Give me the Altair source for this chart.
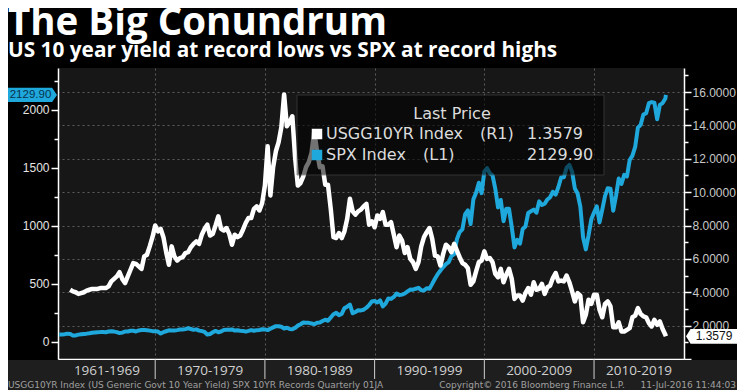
import altair as alt
import pandas as pd

# ---------------- data (quarter-end closes) ----------------
SPX_FIRST_YEAR = 1961
spx_1960s = [65.06, 64.64, 66.73, 71.55,
             69.55, 54.75, 56.27, 63.10,
             66.57, 69.37, 71.70, 75.02,
             78.98, 81.69, 84.18, 84.75,
             86.16, 84.12, 89.96, 92.43,
             89.23, 84.74, 76.56, 80.33,
             90.20, 90.64, 96.71, 96.47,
             90.20, 99.58, 102.67, 103.86,
             101.51, 97.71, 93.12, 92.06]
spx_1970s = [89.63, 72.72, 84.30, 92.15,
             100.31, 99.00, 98.34, 102.09,
             107.20, 107.14, 110.55, 118.05,
             111.52, 104.26, 108.43, 97.55,
             93.98, 86.00, 63.54, 68.56,
             83.36, 95.19, 83.87, 90.19,
             102.77, 104.28, 105.24, 107.46,
             98.42, 100.48, 96.53, 95.10,
             89.21, 95.53, 102.54, 96.11,
             101.59, 102.91, 109.32, 107.94]
spx_1980s = [102.09, 114.24, 125.46, 135.76,
             136.00, 131.21, 116.18, 122.55,
             111.96, 109.61, 120.42, 140.64,
             152.96, 168.11, 166.07, 164.93,
             159.18, 153.18, 166.10, 167.24,
             180.66, 191.85, 182.08, 211.28,
             238.90, 250.84, 231.32, 242.17,
             291.70, 304.00, 321.83, 247.08,
             258.89, 273.50, 271.91, 277.72,
             294.87, 317.98, 349.15, 353.40]
spx_1990s = [339.94, 358.02, 306.05, 330.22,
             375.22, 371.16, 387.86, 417.09,
             403.69, 408.14, 417.80, 435.71,
             451.67, 450.53, 458.93, 466.45,
             445.77, 444.27, 462.69, 459.27,
             500.71, 544.75, 584.41, 615.93,
             645.50, 670.63, 687.33, 740.74,
             757.12, 885.14, 947.28, 970.43,
             1101.75, 1133.84, 1017.01, 1229.23,
             1286.37, 1372.71, 1282.71, 1469.25]
spx_2000s = [1498.58, 1454.60, 1436.51, 1320.28,
             1160.33, 1224.42, 1040.94, 1148.08,
             1147.39, 989.82, 815.28, 879.82,
             848.18, 974.50, 995.97, 1111.92,
             1126.21, 1140.84, 1114.58, 1211.92,
             1180.59, 1191.33, 1228.81, 1248.29,
             1294.83, 1270.20, 1335.85, 1418.30,
             1420.86, 1503.35, 1526.75, 1468.36,
             1322.70, 1280.00, 1166.36, 903.25,
             797.87, 919.32, 1057.08, 1115.10]
spx_2010s = [1169.43, 1030.71, 1141.20, 1257.64,
             1325.83, 1320.64, 1131.42, 1257.60,
             1408.47, 1362.16, 1440.67, 1426.19,
             1569.19, 1606.28, 1681.55, 1848.36,
             1872.34, 1960.23, 1972.29, 2058.90,
             2067.89, 2063.11, 1920.03, 2043.94,
             2059.74, 2098.86]

YLD_FIRST_YEAR = 1962
yld_1960s = [4.15, 4.05, 4.00, 3.90,
             3.95, 4.00, 4.10, 4.15,
             4.20, 4.20, 4.20, 4.25,
             4.25, 4.25, 4.35, 4.65,
             4.80, 4.95, 5.20, 4.80,
             4.55, 4.95, 5.35, 5.75,
             5.70, 5.55, 5.40, 6.15,
             6.25, 6.75, 7.30, 8.00]
yld_1970s = [7.65, 7.80, 7.30, 6.40,
             5.65, 6.75, 6.15, 5.90,
             6.05, 6.10, 6.35, 6.40,
             6.70, 6.90, 7.05, 6.90,
             7.45, 7.80, 8.05, 7.40,
             7.50, 8.00, 8.55, 7.80,
             7.70, 7.85, 7.50, 6.85,
             7.45, 7.30, 7.40, 7.75,
             8.15, 8.45, 8.45, 9.00,
             9.15, 8.90, 9.35, 10.40]
yld_1980s = [12.75, 9.80, 11.50, 12.45,
             13.00, 13.90, 15.85, 13.95,
             14.20, 14.55, 12.10, 10.40,
             10.55, 10.95, 11.50, 11.80,
             12.35, 13.65, 12.45, 11.50,
             11.55, 10.45, 10.45, 9.00,
             7.30, 7.25, 7.55, 7.25,
             7.65, 8.40, 9.60, 8.85,
             8.65, 8.85, 8.95, 9.15,
             9.30, 8.05, 8.25, 7.90]
yld_1990s = [8.60, 8.40, 8.80, 8.05,
             8.05, 8.20, 7.45, 6.70,
             7.40, 7.10, 6.35, 6.70,
             6.00, 5.80, 5.40, 5.80,
             6.75, 7.30, 7.60, 7.85,
             7.20, 6.20, 6.15, 5.60,
             6.30, 6.85, 6.70, 6.40,
             6.90, 6.50, 6.10, 5.75,
             5.65, 5.45, 4.45, 4.65,
             5.25, 5.80, 5.90, 6.45]
yld_2000s = [6.00, 6.05, 5.80, 5.10,
             4.90, 5.40, 4.60, 5.05,
             5.40, 4.80, 3.60, 3.80,
             3.80, 3.50, 3.95, 4.25,
             3.85, 4.60, 4.15, 4.20,
             4.50, 3.90, 4.30, 4.40,
             4.85, 5.15, 4.65, 4.70,
             4.65, 5.00, 4.60, 4.05,
             3.45, 3.95, 3.80, 2.20,
             2.65, 3.55, 3.30, 3.85]
yld_2010s = [3.85, 2.95, 2.50, 3.30,
             3.45, 3.15, 1.90, 1.90,
             2.20, 1.65, 1.65, 1.75,
             1.85, 2.50, 2.60, 3.05,
             2.70, 2.55, 2.50, 2.15,
             1.95, 2.35, 2.05, 2.25,
             1.80, 1.45]

LAST_T = 2016.55
SPX_LAST = 2129.90
YLD_LAST = 1.3579

decade_labels = ["1961-1969", "1970-1979", "1980-1989", "1990-1999", "2000-2009", "2010-2019"]
decade_centers = [1965.6, 1975, 1985, 1995, 2005, 2014.1]
decade_bounds = [1970, 1980, 1990, 2000, 2010]
x_ticks = [1965, 1970, 1975, 1980, 1985, 1990, 1995, 2000, 2005, 2010, 2015]
left_ticks = [0, 250, 500, 750, 1000, 1250, 1500, 1750, 2000, 2250]
right_ticks = list(range(0, 18))

spx_vals = spx_1960s + spx_1970s + spx_1980s + spx_1990s + spx_2000s + spx_2010s
yld_vals = yld_1960s + yld_1970s + yld_1980s + yld_1990s + yld_2000s + yld_2010s
spx_t = [SPX_FIRST_YEAR + (i + 1) / 4 for i in range(len(spx_vals))] + [LAST_T]
yld_t = [YLD_FIRST_YEAR + (i + 1) / 4 for i in range(len(yld_vals))] + [LAST_T]
spx_df = pd.DataFrame({"t": spx_t, "v": spx_vals + [SPX_LAST]})
yld_df = pd.DataFrame({"t": yld_t, "v": yld_vals + [YLD_LAST]})
spx_last_df = pd.DataFrame({"v": [SPX_LAST], "s": [f"{SPX_LAST:.2f}"]})
yld_last_df = pd.DataFrame({"v": [YLD_LAST], "s": [f"{YLD_LAST:.4f}"]})
dec_df = pd.DataFrame({"t": decade_centers, "s": decade_labels})
bound_df = pd.DataFrame({"t": decade_bounds})

# ---------------- styling ----------------
W, H = 626, 291
X_DOMAIN = [1961.14, 2018.2]
SPX_DOMAIN = [-147, 2362]
YLD_DOMAIN = [0, 17.44]
WHITE = "#ffffff"
BLUE = "#1fa8dc"
GRID = "#5c5c5c"
AX_FONT = "Liberation Sans"
LEG_FONT = "DejaVu Sans"
TITLE_FONT = "Open Sans"

x_enc = alt.X(
    "t:Q",
    scale=alt.Scale(domain=X_DOMAIN, nice=False, zero=False),
    axis=alt.Axis(values=x_ticks, labels=False, title=None, tickSize=4,
                  tickColor=WHITE, domainColor=WHITE, domainWidth=1.5,
                  grid=True, gridColor=GRID, gridDash=[2, 3],
                  gridOpacity={"expr": "datum.value % 10 === 0 ? 1 : 0"}),
)

spx_scale = alt.Scale(domain=SPX_DOMAIN, nice=False, zero=False)
yld_scale = alt.Scale(domain=YLD_DOMAIN, nice=False, zero=False)


def txt(s, x, y, size, color, weight="normal", align="left", font=LEG_FONT, baseline="middle"):
    return alt.Chart(pd.DataFrame({"s": [s]})).mark_text(
        align=align, baseline=baseline, font=font, fontSize=size,
        fontWeight=weight, color=color
    ).encode(x=alt.value(x), y=alt.value(y), text="s:N")


strip = alt.Chart(pd.DataFrame({"a": [0]})).mark_rect(color="#1e1e1e").encode(
    x=alt.value(-50), x2=alt.value(W + 53), y=alt.value(H + 1), y2=alt.value(H + 31))

seps = alt.Chart(bound_df).mark_rule(color="#d0d0d0", strokeWidth=1).encode(
    x=x_enc, y=alt.value(H), y2=alt.value(H + 20))

dec_text = alt.Chart(dec_df).mark_text(
    font=TITLE_FONT, fontSize=13.5, color="#d0d0d0", baseline="middle", align="center"
).encode(x=x_enc, y=alt.value(H + 11.5), text="s:N")

spx_line = alt.Chart(spx_df).mark_line(color=BLUE, strokeWidth=4, strokeJoin="round").encode(
    x=x_enc,
    y=alt.Y("v:Q", scale=spx_scale,
            axis=alt.Axis(orient="left", values=left_ticks, format="d", title=None,
                          labelExpr="datum.value % 500 === 0 ? datum.label : ''",
                          labelColor="#e4e4e4", labelFont=AX_FONT, labelFontSize=12,
                          labelPadding=2, tickColor=WHITE, domainColor=WHITE,
                          domainWidth=1.5, tickWidth=1.5,
                          tickSize={"expr": "datum.value % 500 === 0 ? 7 : 4"},
                          grid=False)),
)

yld_line = alt.Chart(yld_df).mark_line(color=WHITE, strokeWidth=4.5, strokeJoin="round").encode(
    x=x_enc,
    y=alt.Y("v:Q", scale=yld_scale,
            axis=alt.Axis(orient="right", values=right_ticks, title=None,
                          labelExpr="datum.value % 2 === 0 && datum.value > 0 ? format(datum.value, '.4f') : ''",
                          labelColor="#c8c8c8", labelFont=AX_FONT, labelFontSize=12,
                          labelPadding=1, tickColor=WHITE, domainColor=WHITE,
                          domainWidth=1.5, tickWidth=1.5,
                          tickSize={"expr": "datum.value % 2 === 0 ? 7 : 4"},
                          grid=True, gridColor=GRID, gridDash=[2, 3],
                          gridOpacity={"expr": "datum.value % 2 === 0 ? 1 : 0"})),
)

# legend box
leg_box = alt.Chart(pd.DataFrame({"a": [0]})).mark_rect(
    color="#000000", opacity=0.55, stroke="#4a4a4a", strokeWidth=1, strokeOpacity=1
).encode(x=alt.value(239), x2=alt.value(546), y=alt.value(27), y2=alt.value(107))

leg_sq = alt.Chart(pd.DataFrame({"c": [WHITE, BLUE], "yy": [66, 87]})).mark_square(
    size=110, filled=True, opacity=1
).encode(x=alt.value(259), y=alt.Y("yy:Q", scale=None), color=alt.Color("c:N", scale=None))

LEG_C = "#dcdcdc"
legend_layers = [
    leg_box, leg_sq,
    txt("Last Price", 394, 46, 16, LEG_C, align="center"),
    txt("USGG10YR Index", 268, 66, 16, LEG_C),
    txt("(R1)", 422, 66, 16, LEG_C),
    txt(f"{YLD_LAST:.4f}", 469, 66, 16, LEG_C),
    txt("SPX Index", 268, 87, 16, LEG_C),
    txt("(L1)", 365, 87, 16, LEG_C),
    txt(f"{SPX_LAST:.2f}", 469, 87, 16, LEG_C),
]

# last value tags on the axes
spx_tag = alt.Chart(spx_last_df).mark_point(
    shape="M-1,-0.29L0.8,-0.29L1,0L0.8,0.29L-1,0.29Z", size=2401, filled=True,
    color=BLUE, opacity=1
).encode(x=alt.value(-25.5), y=alt.Y("v:Q", scale=spx_scale, axis=None))
spx_tag_t = alt.Chart(spx_last_df).mark_text(
    font=AX_FONT, fontSize=11.5, color="#08344f", align="center", baseline="middle"
).encode(x=alt.value(-27.5), y=alt.Y("v:Q", scale=spx_scale, axis=None), text="s:N")

yld_tag = alt.Chart(yld_last_df).mark_point(
    shape="M-1,0L-0.82,-0.29L1,-0.29L1,0.29L-0.82,0.29Z", size=2601, filled=True,
    color=WHITE, opacity=1
).encode(x=alt.value(W + 27.5), y=alt.Y("v:Q", scale=yld_scale, axis=None))
yld_tag_t = alt.Chart(yld_last_df).mark_text(
    font=AX_FONT, fontSize=12, color="#111111", align="center", baseline="middle"
).encode(x=alt.value(W + 30), y=alt.Y("v:Q", scale=yld_scale, axis=None), text="s:N")

titles = [
    txt("The Big Conundrum", -50, -33, 38.5, WHITE, "bold", font=TITLE_FONT, baseline="alphabetic"),
    txt("US 10 year yield at record lows vs SPX at record highs", -50, -11, 20.8, WHITE,
        "bold", font=TITLE_FONT, baseline="alphabetic"),
]
FOOT_C = "#a0a0a0"
footer = [
    txt("USGG10YR Index (US Generic Govt 10 Year Yield) SPX  10YR Records  Quarterly 01JA",
        -50, H + 26, 9, FOOT_C),
    txt("Copyright\u00a9 2016 Bloomberg Finance L.P.", 474, H + 26, 9, FOOT_C, align="center"),
    txt("11-Jul-2016 11:44:03", W + 52, H + 26, 9, FOOT_C, align="right"),
]

chart = alt.layer(
    strip, seps, dec_text, spx_line, yld_line, *legend_layers,
    spx_tag, spx_tag_t, yld_tag, yld_tag_t, *titles, *footer
).resolve_scale(y="independent").properties(
    width=W, height=H,
    autosize=alt.AutoSizeParams(type="none"),
    padding={"left": 50, "top": 60, "right": 53, "bottom": 31},
    background="#000000",
).configure_view(fill="#171717", strokeWidth=0)

chart.save("out.html", embed_options={"renderer": "svg", "actions": False})
